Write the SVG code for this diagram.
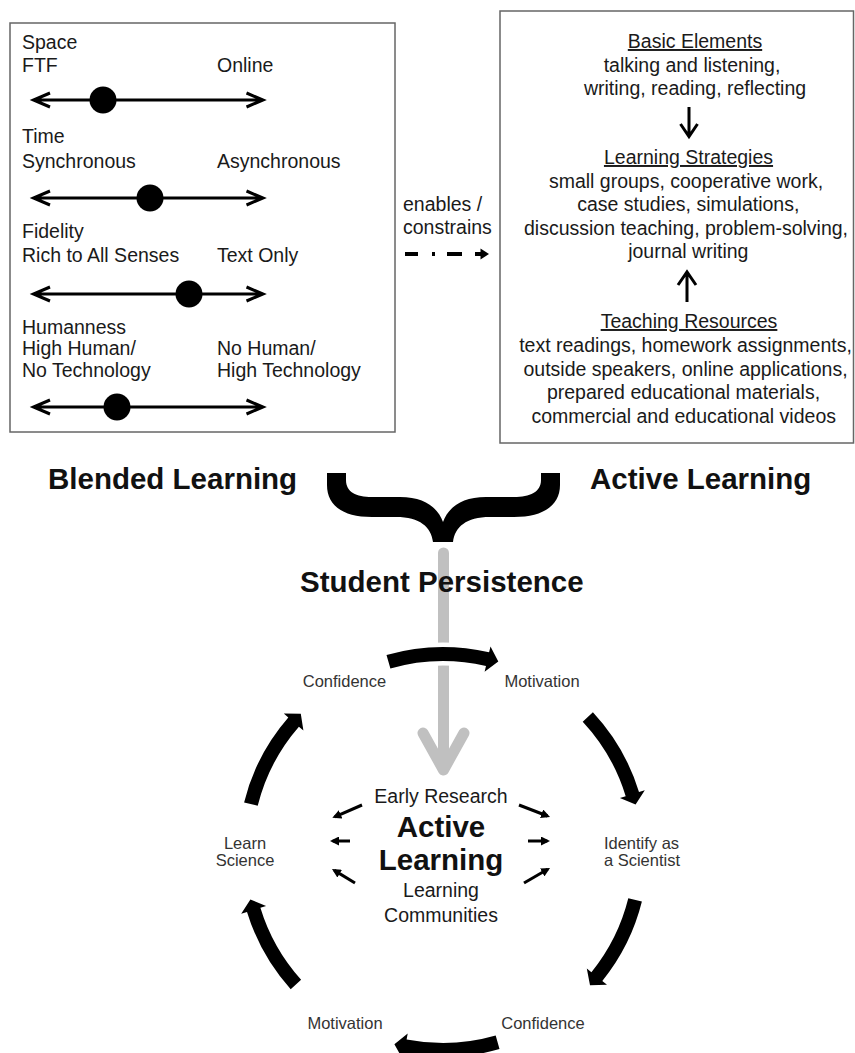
<svg xmlns="http://www.w3.org/2000/svg" width="855" height="1053" viewBox="0 0 855 1053">
  <style>
    .t { font-family: "Liberation Sans", Arial, sans-serif; font-size: 19.5px; fill: #1a1a1a; }
    .c { text-anchor: middle; }
    .u { text-decoration: underline; }
    .b { font-weight: bold; font-size: 29.5px; fill: #111; }
    .s { font-size: 16.5px; fill: #333; }
    .box { fill: #fff; stroke: #666; stroke-width: 1.5; }
    .sl { fill: none; stroke: #000; stroke-width: 3; }
    .knob { fill: #000; }
    .arc { fill: #000; }
    .halo { stroke: #fff; stroke-width: 9; paint-order: stroke; stroke-linejoin: round; }
    .thin { fill: none; stroke: #000; stroke-width: 3; }
    .gray { fill: none; stroke: #c0c0c0; stroke-width: 11; stroke-linecap: round; stroke-linejoin: round; }
  </style>
  <defs>
    <marker id="tri" viewBox="0 0 10 10" refX="7" refY="5" markerWidth="3" markerHeight="3" orient="auto" markerUnits="strokeWidth">
      <path d="M0,0 L10,5 L0,10 Z" fill="#000"/>
    </marker>
  </defs>

  <rect width="855" height="1053" fill="#fff"/>

  <!-- left panel: four blended-learning dimensions -->
  <g id="blended-dimensions">
    <rect class="box" x="10" y="23" width="385" height="409"/>
    <text class="t" x="22" y="49">Space</text>
    <text class="t" x="22" y="72">FTF</text>
    <text class="t" x="217" y="72">Online</text>
    <text class="t" x="22" y="143">Time</text>
    <text class="t" x="22" y="168">Synchronous</text>
    <text class="t" x="217" y="168">Asynchronous</text>
    <text class="t" x="22" y="238">Fidelity</text>
    <text class="t" x="22" y="262">Rich to All Senses</text>
    <text class="t" x="217" y="262">Text Only</text>
    <text class="t" x="22" y="334">Humanness</text>
    <text class="t" x="22" y="355">High Human/</text>
    <text class="t" x="22" y="377">No Technology</text>
    <text class="t" x="217" y="355">No Human/</text>
    <text class="t" x="217" y="377">High Technology</text>
    <!-- sliders -->
    <g id="slider-space">
      <path class="sl" d="M34,100 H262 M50,93 L33.5,100 L50,107 M246.5,93 L263,100 L246.5,107"/>
      <circle class="knob" cx="103" cy="100" r="13.5"/>
    </g>
    <g id="slider-time">
      <path class="sl" d="M34,198 H262 M50,191 L33.5,198 L50,205 M246.5,191 L263,198 L246.5,205"/>
      <circle class="knob" cx="150" cy="198" r="13.5"/>
    </g>
    <g id="slider-fidelity">
      <path class="sl" d="M34,294 H262 M50,287 L33.5,294 L50,301 M246.5,287 L263,294 L246.5,301"/>
      <circle class="knob" cx="189" cy="294" r="13.5"/>
    </g>
    <g id="slider-humanness">
      <path class="sl" d="M34,407 H262 M50,400 L33.5,407 L50,414 M246.5,400 L263,407 L246.5,414"/>
      <circle class="knob" cx="117" cy="407" r="13.5"/>
    </g>
  </g>

  <!-- right panel: active learning elements -->
  <g id="active-elements">
    <rect class="box" x="500" y="11" width="353.5" height="432"/>
    <text class="t c u" x="695" y="48">Basic Elements</text>
    <text class="t c" x="692" y="71.5">talking and listening,</text>
    <text class="t c" x="695" y="95">writing, reading, reflecting</text>
    <text class="t c u" x="688.5" y="164">Learning Strategies</text>
    <text class="t c" x="686" y="187.5">small groups, cooperative work,</text>
    <text class="t c" x="688.3" y="211">case studies, simulations,</text>
    <text class="t c" x="686" y="234.5">discussion teaching, problem-solving,</text>
    <text class="t c" x="688.3" y="258">journal writing</text>
    <text class="t c u" x="689" y="328">Teaching Resources</text>
    <text class="t c" x="685.5" y="352">text readings, homework assignments,</text>
    <text class="t c" x="685.5" y="375.5">outside speakers, online applications,</text>
    <text class="t c" x="683.5" y="399">prepared educational materials,</text>
    <text class="t c" x="683.7" y="422.5">commercial and educational videos</text>
  </g>

  <g id="connectors">
    <!-- arrows inside the right panel -->
    <path class="thin" stroke-width="3.5" d="M689,107 V135 M680.5,124 L689,136.5 L697.5,124"/>
    <path class="thin" stroke-width="3.5" d="M687,302 V274 M678,285 L687,272 L696,285"/>
    <!-- enables / constrains dash-dot arrow -->
    <g stroke="#000" stroke-width="4">
      <line x1="405" y1="254" x2="418" y2="254"/>
      <line x1="432" y1="254" x2="435" y2="254"/>
      <line x1="447" y1="254" x2="462" y2="254"/>
      <line x1="475" y1="254" x2="482" y2="254"/>
    </g>
    <polygon points="480.5,248.5 489,254 480.5,259.5" fill="#000"/>

    <!-- brace joining the two approaches -->
    <path fill="#000" d="M327,473 V485 C327,505 342,517 372,517 H396 C420,517 431,527 433,542 H453 C455,527 466,517 490,517 H514 C544,517 560,505 560,485 V473 H541 V480 C541,492 530,497 514,497 H486 C461,497 448,508 443,522 C438,508 425,497 400,497 H372 C356,497 346,492 346,480 V473 Z"/>

    <!-- grey arrow down into the cycle -->
    <path class="gray" d="M443.5,553 V768 M423,733 L443.5,770 L464,733"/>

    <!-- persistence cycle -->
    <path class="arc halo" d="M386.5,654.9 A205,205 0 0 1 489.1,652.3 L490.5,646.4 L498.3,661.5 L484.6,671.7 L486,665.9 A191,191 0 0 0 390.4,668.4 Z"/>
    <path class="arc" d="M592.9,712.2 A205,205 0 0 1 639,792.1 L644.8,790.3 L635.6,804.6 L619.9,797.9 L625.7,796.2 A191,191 0 0 0 582.7,721.7 Z"/>
    <path class="arc" d="M641.9,901.6 A205,205 0 0 1 602.3,981 L607,984.8 L590,985.2 L586.8,968.4 L591.4,972.2 A191,191 0 0 0 628.3,898.2 Z"/>
    <path class="arc" d="M499.5,1049.1 A205,205 0 0 1 403.9,1053.2 L402.7,1059.1 L394.4,1044.3 L407.7,1033.6 L406.6,1039.5 A191,191 0 0 0 495.7,1035.6 Z"/>
    <path class="arc" d="M290.7,989.2 A205,205 0 0 1 247,911.9 L241.2,913.7 L250.4,899.4 L266.1,906.1 L260.4,907.8 A191,191 0 0 0 301.1,979.8 Z"/>
    <path class="arc" d="M244.1,802.4 A205,205 0 0 1 288.3,717.5 L283.8,713.6 L300.8,713.8 L303.4,730.6 L298.9,726.7 A191,191 0 0 0 257.7,805.8 Z"/>

    <!-- small arrows radiating from the hub -->
    <g class="thin" marker-end="url(#tri)">
      <line x1="362" y1="805" x2="334.8" y2="816.8"/>
      <line x1="350" y1="841" x2="332.7" y2="841"/>
      <line x1="355" y1="883" x2="334.3" y2="870.4"/>
      <line x1="519" y1="805" x2="547.5" y2="816"/>
      <line x1="528" y1="841" x2="547.3" y2="841"/>
      <line x1="524" y1="883" x2="547.7" y2="869.3"/>
    </g>
  </g>

  <g id="enables-label">
    <text class="t" x="403" y="211">enables /</text>
    <text class="t" x="403" y="234">constrains</text>
  </g>

  <g id="blended-title"><text class="t b" x="48" y="489">Blended Learning</text></g>
  <g id="active-title"><text class="t b" x="590" y="489">Active Learning</text></g>
  <g id="persistence-title"><text class="t b" x="300" y="592">Student Persistence</text></g>

  <g id="cycle-confidence-top"><text class="t s c" x="344.5" y="687">Confidence</text></g>
  <g id="cycle-motivation-top"><text class="t s c" x="542" y="687">Motivation</text></g>
  <g id="cycle-identify"><text class="t s c" x="641.5" y="849">Identify as</text><text class="t s c" x="642" y="866">a Scientist</text></g>
  <g id="cycle-confidence-bottom"><text class="t s c" x="543" y="1029">Confidence</text></g>
  <g id="cycle-motivation-bottom"><text class="t s c" x="345" y="1029">Motivation</text></g>
  <g id="cycle-learn"><text class="t s c" x="245" y="849">Learn</text><text class="t s c" x="245" y="866">Science</text></g>

  <g id="hub">
    <text class="t c" x="441" y="803">Early Research</text>
    <text class="t c b" x="441" y="837">Active</text>
    <text class="t c b" x="441" y="870">Learning</text>
    <text class="t c" x="441" y="897">Learning</text>
    <text class="t c" x="441" y="922">Communities</text>
  </g>
</svg>
